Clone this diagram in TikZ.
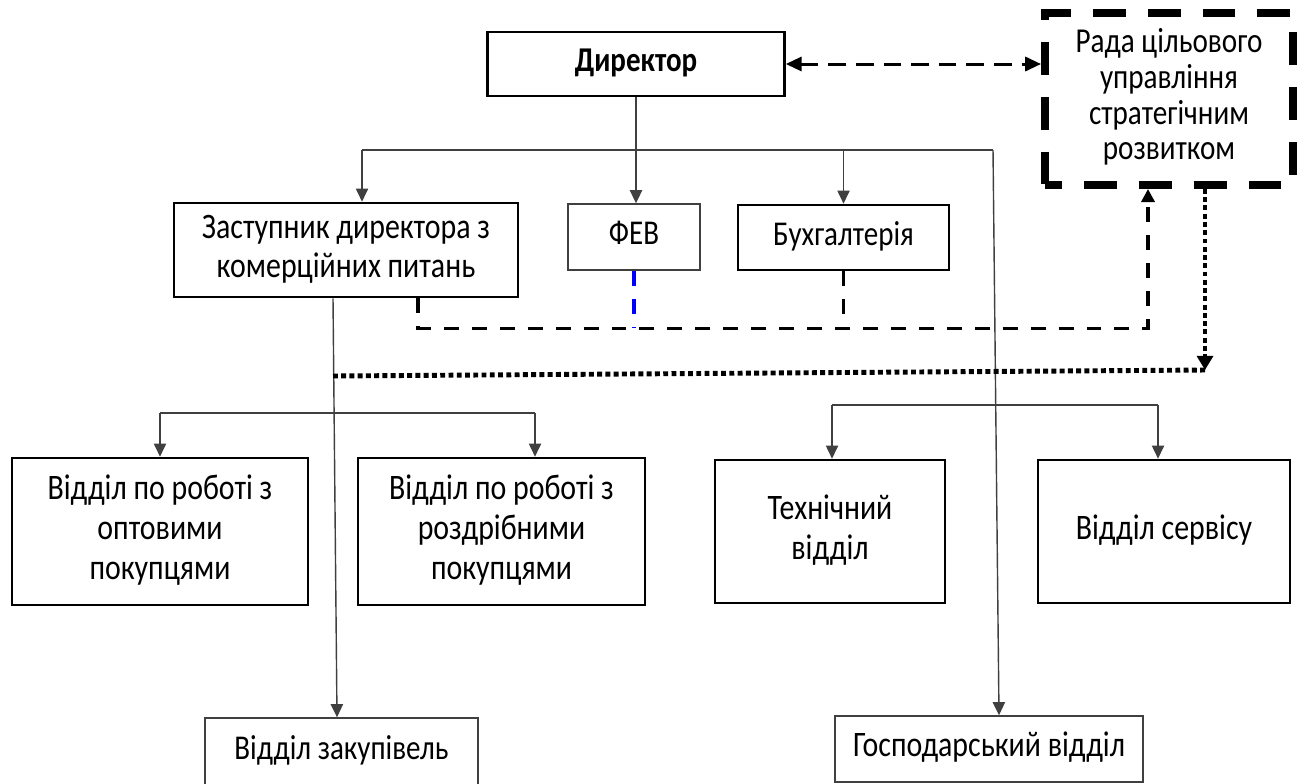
\documentclass[tikz,border=0pt]{standalone}
\usepackage{fontspec}
\usepackage{graphicx}
\setmainfont{Carlito}
\usetikzlibrary{arrows.meta,positioning,calc}
\definecolor{linegray}{HTML}{404040}
\definecolor{febblue}{HTML}{0000FF}
% the letters of the original are drawn a little taller than wide
\newcommand{\tall}[1]{\scalebox{1}[1.2]{\begin{tabular}{@{}c@{}}#1\end{tabular}}}

\begin{document}
\begin{tikzpicture}[
  font=\fontsize{17pt}{18.9pt}\selectfont,
  box/.style={draw, line width=1.5pt, align=center, inner sep=2pt},
  thinbox/.style={draw=linegray, line width=0.8pt, align=center, inner sep=2pt},
  bus/.style={linegray, line width=0.8pt},
  link/.style={bus, -{Triangle[length=7.5pt,width=7pt]}},
  fback/.style={line width=2pt, dash pattern=on 8.5pt off 7.4pt},
  dots/.style={line width=2.8pt, dash pattern=on 2.8pt off 1.9pt}
]
  \useasboundingbox (0,0) rectangle (26.02,-15.66);

  % Director and the council
  \node[box, font=\fontsize{16.5pt}{18.9pt}\selectfont\bfseries, minimum width=5.94cm, minimum height=1.28cm] (dir) at (12.72,-1.28) {\tall{Директор}};
  \node[draw, line width=4.5pt, dash pattern=on 18.7pt off 12.5pt, dash phase=9pt, align=center, font=\fontsize{16.6pt}{17pt}\selectfont,
        minimum width=4.96cm, minimum height=3.44cm] (rada) at (23.38,-1.98) {\tall{Рада цільового\\управління\\стратегічним\\розвитком}};

  % Second level
  \node[box, minimum width=6.88cm, minimum height=1.88cm] (zast) at (6.92,-5.0) {\tall{Заступник директора з\\комерційних питань}};
  \node[thinbox, font=\fontsize{16.5pt}{18.9pt}\selectfont, minimum width=2.64cm, minimum height=1.32cm] (feb) at (12.68,-4.74) {\tall{ФЕВ}};
  \node[box, font=\fontsize{16.5pt}{18.9pt}\selectfont, minimum width=4.22cm, minimum height=1.30cm] (buh) at (16.87,-4.75) {\tall{Бухгалтерія}};

  % Departments
  \node[box, minimum width=5.92cm, minimum height=2.94cm] (opt) at (3.2,-10.63) {\tall{Відділ по роботі з\\оптовими\\покупцями}};
  \node[box, minimum width=5.74cm, minimum height=2.94cm] (rozdr) at (10.03,-10.63) {\raisebox{4pt}{\tall{Відділ по роботі з\\роздрібними\\покупцями}}};
  \node[box, minimum width=4.6cm, minimum height=2.86cm] (tekh) at (16.6,-10.63) {\tall{Технічний\\відділ}};
  \node[box, minimum width=5.04cm, minimum height=2.86cm] (serv) at (23.28,-10.63) {\raisebox{4pt}{\tall{Відділ сервісу}}};
  \node[thinbox, font=\fontsize{16.5pt}{18.9pt}\selectfont, minimum width=5.46cm, minimum height=1.36cm] (zakup) at (6.83,-15.04) {\tall{Відділ закупівель}};
  \node[thinbox, minimum width=6.16cm, minimum height=1.32cm] (gosp) at (19.78,-14.98) {\tall{Господарський відділ}};

  % Bus lines
  \coordinate (top-l) at (7.24,-3.0);
  \coordinate (top-r) at (19.86,-3.0);
  \coordinate (low-l) at (3.2,-8.26);
  \coordinate (low-r) at (10.7,-8.26);
  \coordinate (mid-l) at (16.64,-8.1);
  \coordinate (mid-r) at (23.16,-8.1);
  \coordinate (dot-r) at (24.1,-7.4);
  \coordinate (dot-l) at (6.66,-7.52);

  \draw[bus] (top-l) -- (top-r);
  \draw[link] (dir.south) -- (dir.south |- feb.north);
  \draw[link] (top-l) -- (top-l |- zast.north);
  \draw[link] (top-l -| buh.north) -- (buh.north);
  \draw[link] (top-r) -- ([xshift=0.2cm]gosp.north);
  \draw[link] ([xshift=-0.26cm]zast.south) -- ([xshift=-0.09cm]zakup.north);

  \draw[bus] (low-l) -- (low-r);
  \draw[link] (low-l) -- (low-l |- opt.north);
  \draw[link] (low-r) -- (low-r |- rozdr.north);
  \draw[bus] (mid-l) -- (mid-r);
  \draw[link] (mid-l) -- (mid-l |- tekh.north);
  \draw[link] (mid-r) -- (mid-r |- serv.north);

  % Links with the council
  \draw[line width=1.7pt, dash pattern=on 10pt off 5.7pt, {Triangle[length=9pt,width=8pt]}-{Triangle[length=9pt,width=8pt]}]
    (dir.east) -- (dir.east -| rada.west);
  \draw[fback, -{Triangle[length=7.5pt,width=7.5pt]}] ([xshift=1.44cm]zast.south) -- ++(0,-0.6) -| ([xshift=-0.42cm]rada.south);
  \draw[fback, febblue] (feb.south) -- ++(0,-1.14);
  \draw[fback] (buh.south) -- ++(0,-1.14);
  \draw[dots, -{Triangle[length=8pt,width=9pt]}] (rada.south -| dot-r) -- (dot-r);
  \draw[dots] (dot-r) -- (dot-l);
\end{tikzpicture}
\end{document}
